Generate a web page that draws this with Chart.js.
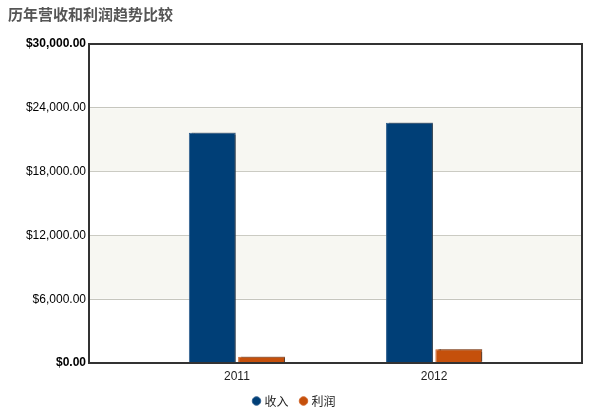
<!DOCTYPE html>
<html>
<head>
<meta charset="utf-8">
<script src="https://cdn.jsdelivr.net/npm/chart.js@4/dist/chart.umd.min.js"></script>
<style>
html,body{margin:0;padding:0;background:#fff;}
#wrap{width:599px;height:417px;position:relative;}
</style>
</head>
<body>
<div id="wrap"><canvas id="c"></canvas></div>
<script>
const titleText = '历年营收和利润趋势比较';
const categories = ['2011', '2012'];
const seriesNames = ['收入', '利润'];
const revenue = [21650, 22600];
const profit = [580, 1300];
const yTicks = [0, 6000, 12000, 18000, 24000, 30000];
const shadedBands = [[6000, 12000], [18000, 24000]];

const bandPlugin = {
  id: 'bands',
  beforeDatasetsDraw(chart) {
    const {ctx, chartArea} = chart;
    const y = chart.scales.y;
    ctx.save();
    ctx.fillStyle = '#f7f7f2';
    shadedBands.forEach(([a, b]) => {
      const y1 = y.getPixelForValue(b), y2 = y.getPixelForValue(a);
      ctx.fillRect(chartArea.left, y1 + 0.5, chartArea.right - chartArea.left, y2 - y1 - 1);
    });
    ctx.restore();
  }
};
const shadowPlugin = {
  id: 'barShadow',
  beforeDatasetDraw(chart) {
    const ctx = chart.ctx;
    ctx.save();
    ctx.shadowColor = 'rgba(40,40,40,0.7)';
    ctx.shadowOffsetX = 3;
    ctx.shadowOffsetY = -1;
    ctx.shadowBlur = 1;
  },
  afterDatasetDraw(chart) {
    chart.ctx.restore();
  }
};
const framePlugin = {
  id: 'frame',
  afterDatasetsDraw(chart) {
    const {ctx, chartArea} = chart;
    ctx.save();
    ctx.strokeStyle = '#333333';
    ctx.lineWidth = 2;
    ctx.strokeRect(chartArea.left, chartArea.top, chartArea.right - chartArea.left, chartArea.bottom - chartArea.top);
    ctx.restore();
  }
};

Chart.defaults.font.family = '"Liberation Sans", Arial, sans-serif';
Chart.defaults.font.size = 12;

new Chart(document.getElementById('c'), {
  type: 'bar',
  data: {
    datasets: [
      {
        label: seriesNames[0],
        data: revenue.map((v, i) => ({x: i, y: v})),
        backgroundColor: '#003f77',
        borderColor: '#2f5f8e',
        borderWidth: 1
      },
      {
        label: seriesNames[1],
        data: profit.map((v, i) => ({x: i, y: v})),
        backgroundColor: '#c5500b',
        borderColor: '#d0652a',
        borderWidth: 1
      }
    ]
  },
  options: {
    responsive: true,
    maintainAspectRatio: false,
    animation: false,
    categoryPercentage: 0.5,
    barPercentage: 0.95,
    layout: {padding: {left: 8, right: 17, top: 0, bottom: 0}},
    scales: {
      x: {
        type: 'linear',
        offset: false,
        min: -0.75,
        max: 1.75,
        grid: {display: false, drawTicks: false, offset: false},
        border: {display: false},
        afterBuildTicks: (s) => { s.ticks = categories.map((c, i) => ({value: i})); },
        afterFit: (s) => { s.height = 19; },
        ticks: {
          padding: 6,
          color: '#222',
          font: {size: 12},
          callback: (v) => categories[v] !== undefined ? categories[v] : ''
        }
      },
      y: {
        min: 0,
        max: 30000,
        afterBuildTicks: (s) => { s.ticks = yTicks.map(v => ({value: v})); },
        afterFit: (s) => { s.width = 81; },
        grid: {color: '#c6c6be', lineWidth: 1, drawTicks: false},
        border: {display: false},
        ticks: {
          padding: 3,
          color: '#000',
          font: (ctx) => ({
            family: '"Liberation Sans", Arial, sans-serif',
            size: 12,
            weight: (ctx.tick && (ctx.tick.value === 0 || ctx.tick.value === 30000)) ? 'bold' : 'normal'
          }),
          callback: (v) => '$' + Number(v).toLocaleString('en-US', {minimumFractionDigits: 2, maximumFractionDigits: 2})
        }
      }
    },
    plugins: {
      title: {
        display: true,
        text: titleText,
        align: 'start',
        color: '#555',
        font: {family: '"Noto Sans CJK SC", sans-serif', size: 15, weight: 'bold'},
        padding: {top: 5, bottom: 21}
      },
      legend: {
        display: true,
        position: 'bottom',
        labels: {
          usePointStyle: true,
          pointStyle: 'circle',
          boxWidth: 4,
          boxHeight: 6,
          padding: 13,
          color: '#222',
          font: {family: '"Noto Sans CJK SC", sans-serif', size: 12}
        }
      },
      tooltip: {enabled: false}
    }
  },
  plugins: [bandPlugin, shadowPlugin, framePlugin]
});
</script>
</body>
</html>
